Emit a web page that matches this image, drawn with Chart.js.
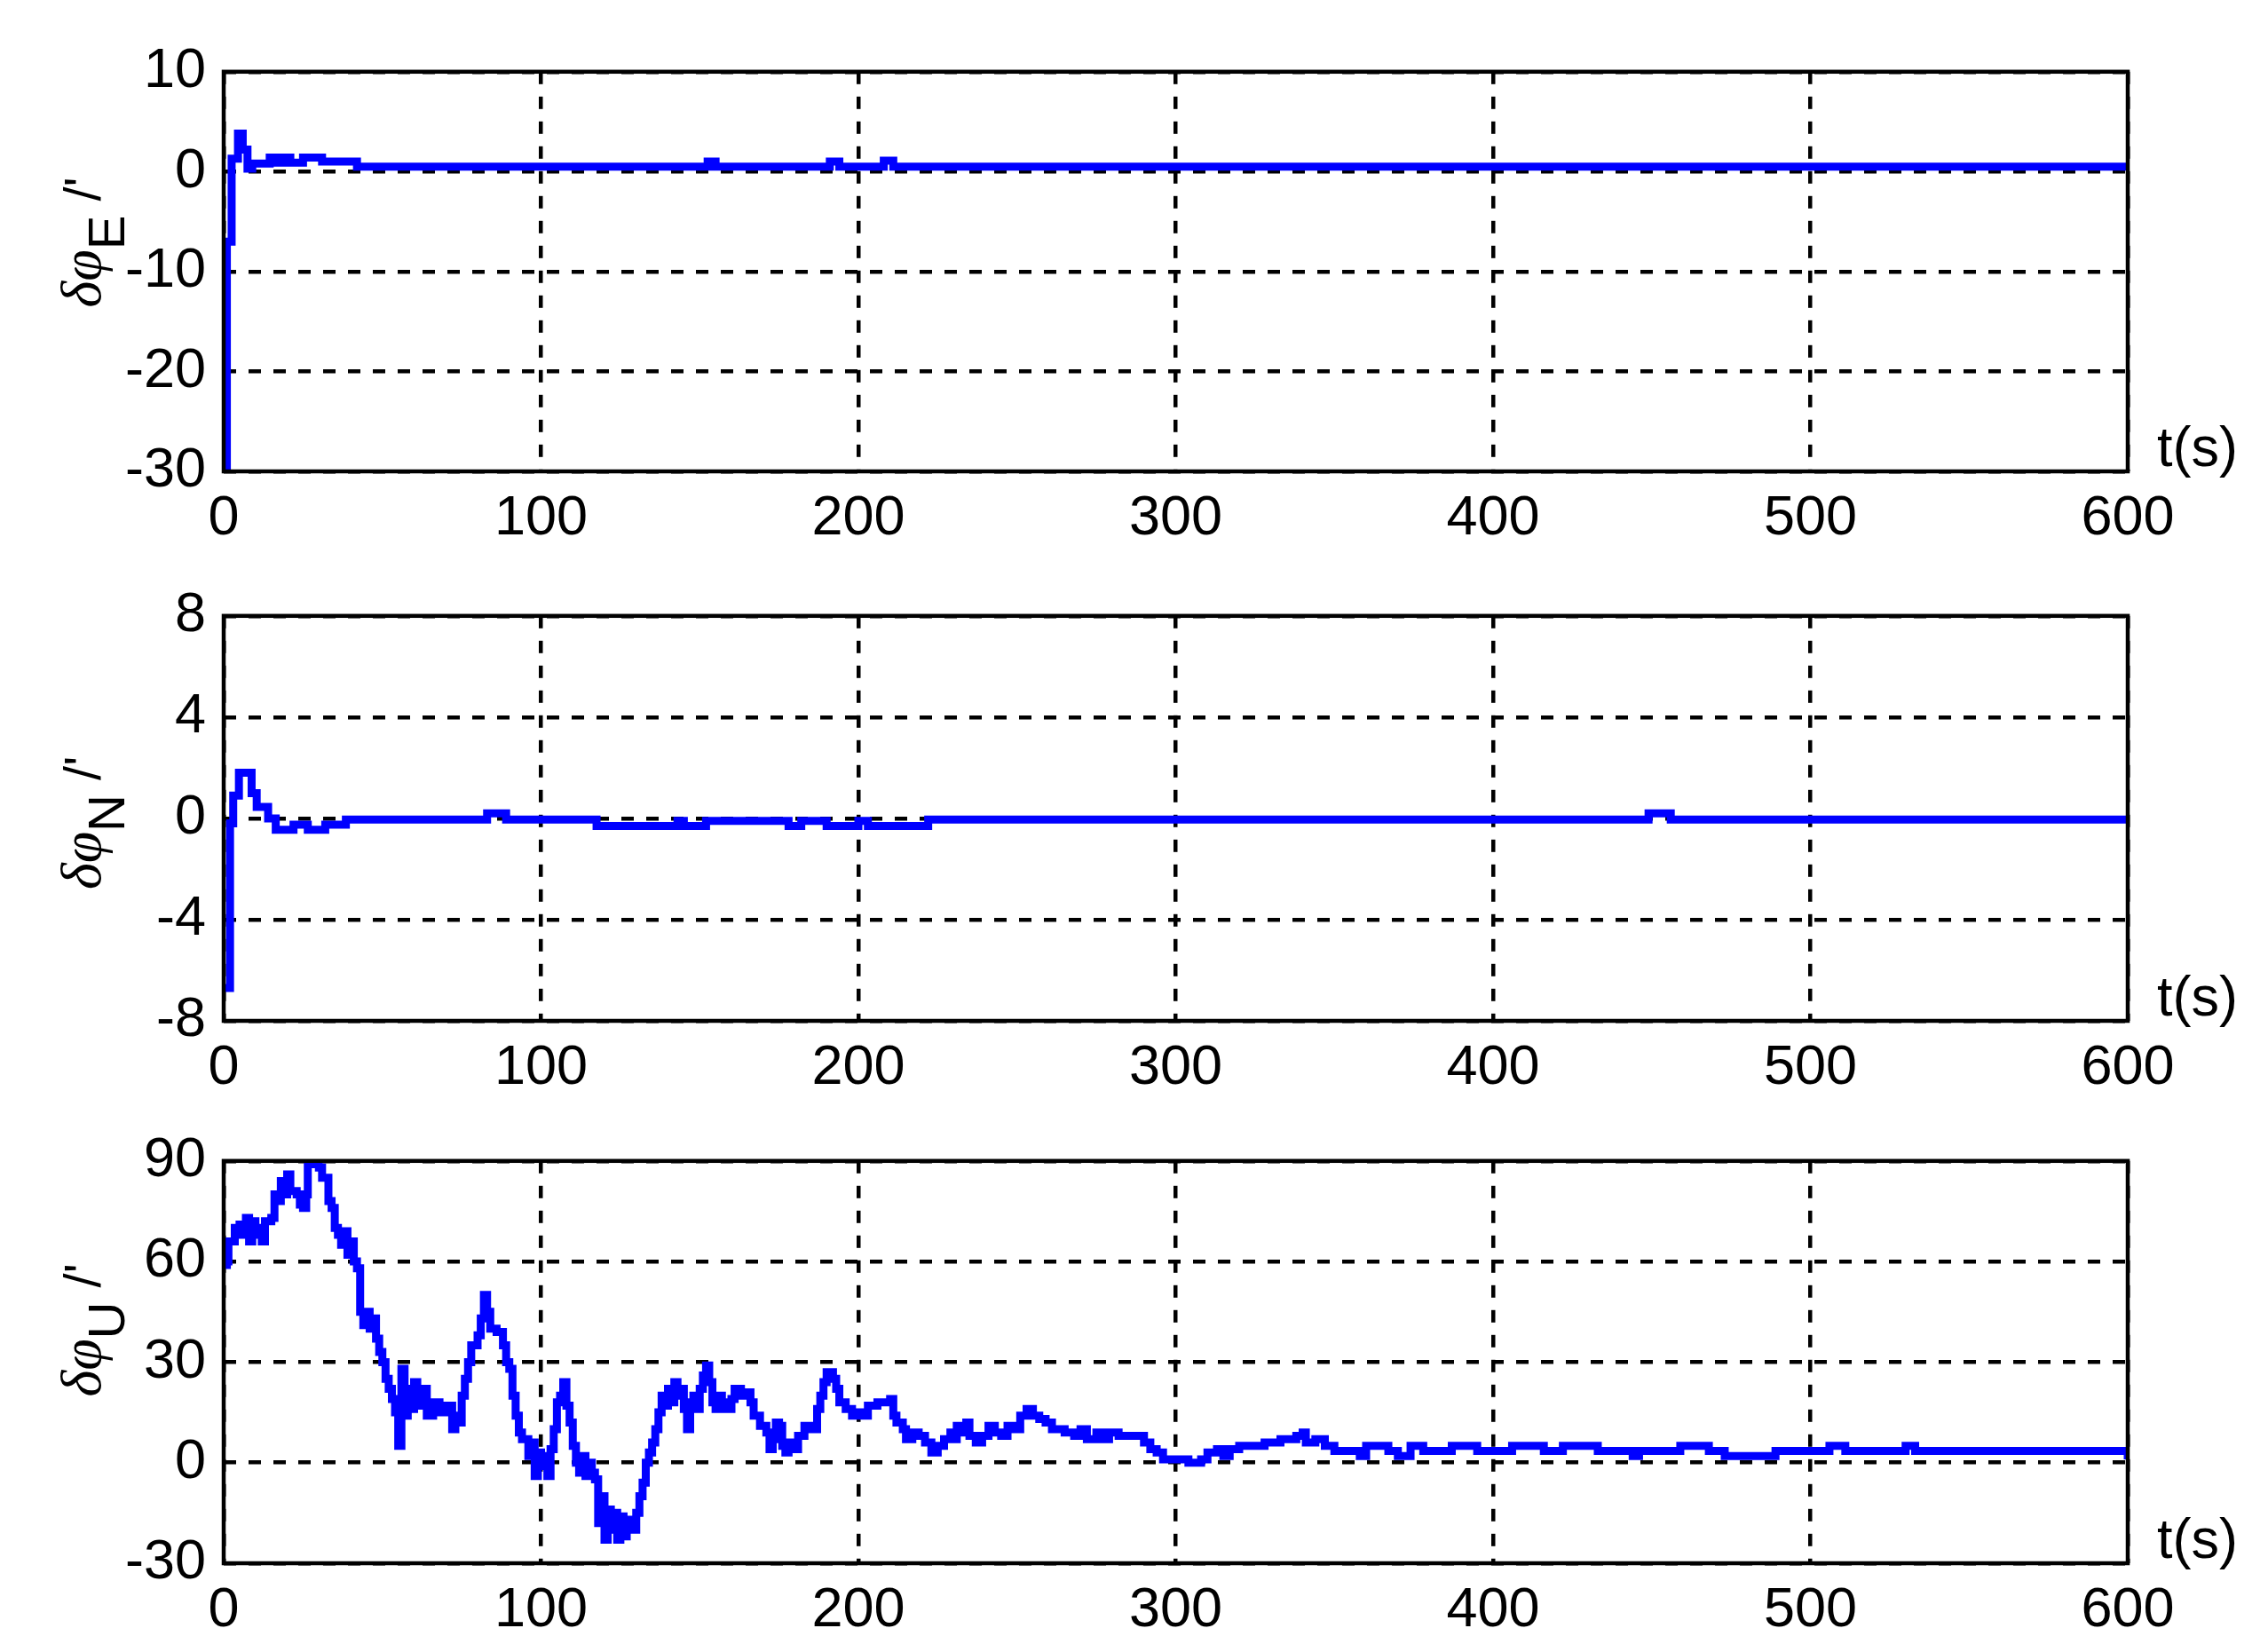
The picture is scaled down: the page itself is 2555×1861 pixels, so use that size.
<!DOCTYPE html>
<html>
<head>
<meta charset="utf-8">
<script src="https://cdn.jsdelivr.net/npm/chart.js@4.4.0/dist/chart.umd.min.js"></script>
<style>
html, body { margin: 0; padding: 0; background: #fff; overflow: hidden; }
canvas { position: absolute; left: 0; }
</style>
</head>
<body>
<canvas id="g1"></canvas>
<canvas id="g2"></canvas>
<canvas id="g3"></canvas>
<script>
// values: t in s, attitude error in arc-min
var tE = [0, 1, 2.5, 4.5, 6, 7.5, 9, 14.5, 17, 19, 21, 25, 31, 42, 152.5, 155, 191, 194, 208, 211, 600];
var phiE = [-31, -7, 1.3, 3.8, 2.2, 0.3, 0.8, 1.4, 0.9, 1.4, 0.9, 1.4, 1.0, 0.5, 1.0, 0.5, 1.0, 0.5, 1.1, 0.5, 0.5];

var tN = [0, 2, 3, 4.8, 8.8, 10.4, 14, 16.4, 22, 26.5, 32, 38.5, 83, 89, 117.5, 143, 145, 152, 178, 182, 190, 200, 203, 222, 449, 456, 600];
var phiN = [-6.7, -0.2, 0.9, 1.8, 1.0, 0.45, 0, -0.45, -0.25, -0.45, -0.25, -0.05, 0.2, -0.05, -0.3, -0.1, -0.3, -0.1, -0.3, -0.1, -0.3, -0.1, -0.3, -0.05, 0.2, -0.05, -0.05];

var tU = [0, 1, 1.5, 3, 3.5, 5, 6, 7, 8, 9, 10, 11, 12, 13, 15, 16, 17, 18, 19, 20, 21, 23, 24, 25, 26, 26.5, 28, 30, 31, 32,
  33, 34, 35, 36, 37, 38, 39, 40, 41, 42, 43, 44, 45, 46, 47, 48, 49, 50, 51, 52, 53, 54, 55, 56, 57, 58, 59, 60, 61, 62,
  64, 66, 68, 70, 72, 73, 74, 75, 76, 77, 78, 80, 81, 82, 83, 84, 86, 88, 89, 90, 91, 92, 93, 94, 96, 97, 98, 99, 100, 101,
  102, 103, 104, 105, 106, 107, 108, 109, 110, 111, 112, 113, 114, 115, 116, 117, 118, 119, 120, 121, 122, 123, 124, 125, 126, 127, 128, 130, 131, 132,
  133, 134, 135, 136, 137, 138, 139, 140, 141, 142, 143, 144, 145, 146, 147, 148, 149, 150, 151, 152, 153, 154, 155, 156, 157, 158, 160, 161, 163, 165,
  166, 167, 169, 171, 172, 173, 174, 175, 176, 177, 178, 179, 181, 183, 185, 187, 188, 189, 190, 192, 193, 194, 196, 198, 200, 202, 203, 206, 208, 210,
  211, 212, 214, 215, 217, 219, 221, 223, 225, 227, 229, 230, 231, 233, 234, 235, 237, 239, 241, 243, 245, 247, 249, 251, 253, 255, 257, 259, 261, 265,
  268, 270, 272, 275, 277, 279, 282, 287, 290, 292, 294, 296, 300, 304, 308, 310, 313, 315, 317, 320, 323, 328, 333, 338, 340, 341, 344, 347, 350, 358,
  360, 367, 370, 374, 378, 387, 395, 406, 416, 422, 433, 444, 446, 459, 468, 473, 489, 506, 511, 530, 533, 599, 600];
var phiU = [59, 60, 66, 66, 70, 71, 68, 73, 66, 72, 68, 70, 66, 72, 73, 80, 78, 84, 80, 86, 81, 80, 77, 76, 80, 90, 89, 88, 85, 85,
  78, 76, 70, 68, 65, 69, 62, 66, 60, 58, 45, 41, 45, 40, 43, 37, 33, 30, 25, 22, 19, 15, 5, 28, 14, 22, 16, 24, 17, 22,
  14, 18, 15, 17, 10, 14, 12, 20, 25, 30, 35, 38, 43, 50, 45, 40, 39, 35, 30, 28, 20, 14, 9, 7, 2, 6, -4, 3, -1, 2,
  -4, 4, 10, 18, 20, 24, 17, 12, 5, 0, -3, 2, -4, 0, -3, -5, -18, -10, -23, -14, -20, -15, -23, -16, -22, -17, -20, -15, -10, -6,
  0, 3, 6, 10, 15, 20, 17, 22, 18, 24, 20, 22, 16, 10, 18, 20, 16, 22, 26, 29, 24, 18, 16, 20, 18, 16, 19, 22, 20, 21,
  18, 14, 11, 9, 4, 7, 12, 11, 5, 3, 6, 4, 8, 11, 10, 16, 20, 24, 27, 25, 22, 18, 16, 14, 15, 14, 17, 18, 18, 19,
  14, 12, 10, 7, 9, 8, 6, 3, 5, 7, 9, 7, 11, 9, 12, 8, 6, 8, 11, 9, 8, 11, 10, 14, 16, 14, 13, 12, 10, 9,
  8, 10, 7, 9, 7, 9, 8, 8, 6, 4, 3, 1, 1, 0, 1, 3, 4, 2, 4, 5, 5, 6, 7, 8, 9, 6, 7, 5, 3.5, 2,
  5, 3.5, 2, 5, 3.5, 5, 3.5, 5, 3.5, 5, 3.5, 2, 3.5, 5, 3.5, 2, 3.5, 5, 3.5, 5, 3.5, 3.5, 1];

var LEFT = 252, RIGHT = 2397, W = 2555, TOPPAD = 50, XAXIS_H = 110;
var tickFont = { family: '"Liberation Sans", Arial, sans-serif', size: 63 };

var panelText = {
  id: 'panelText',
  afterDraw: function(chart, args, opts) {
    var ctx = chart.ctx, a = chart.chartArea;
    ctx.save();
    ctx.setLineDash([]);
    ctx.strokeStyle = '#000';
    ctx.lineWidth = 4.5;
    ctx.strokeRect(a.left, a.top, a.right - a.left, a.bottom - a.top);

    ctx.fillStyle = '#000';
    ctx.font = '63px "Liberation Sans", Arial, sans-serif';
    ctx.textAlign = 'left';
    ctx.textBaseline = 'alphabetic';
    ctx.fillText('t(s)', a.right + 33, a.bottom - 6);

    // rotated y label with subscript
    var parts = [
      { s: 'δφ', f: 'italic 64px "Liberation Serif", serif', dy: 0 },
      { s: opts.sub, f: '58px "Liberation Sans", Arial, sans-serif', dy: 27 },
      { s: ' /', f: '58px "Liberation Sans", Arial, sans-serif', dy: 0 },
      { s: "'", f: '58px "Liberation Sans", Arial, sans-serif', dy: 0 }
    ];
    var total = 0;
    parts.forEach(function(p) { ctx.font = p.f; p.w = ctx.measureText(p.s).width; total += p.w; });
    ctx.translate(113, (a.top + a.bottom) / 2 + opts.dy);
    ctx.rotate(-Math.PI / 2);
    var x = -total / 2;
    parts.forEach(function(p) {
      ctx.font = p.f;
      ctx.fillText(p.s, x, p.dy);
      x += p.w;
    });
    ctx.restore();
  }
};

var panels = [
  { id: 'g1', top: 73, bottom: 531, t: tE, v: phiE, min: -30, max: 10, step: 10, sub: 'E', labelDy: -33 },
  { id: 'g2', top: 686, bottom: 1150, t: tN, v: phiN, min: -8, max: 8, step: 4, sub: 'N', labelDy: 5 },
  { id: 'g3', top: 1300, bottom: 1761, t: tU, v: phiU, min: -30, max: 90, step: 30, sub: 'U', labelDy: -36 }
];

panels.forEach(function(p) {
  var cv = document.getElementById(p.id);
  cv.width = W;
  cv.height = (p.bottom - p.top) + TOPPAD + XAXIS_H;
  cv.style.top = (p.top - TOPPAD) + 'px';

  new Chart(cv, {
    type: 'line',
    data: {
      datasets: [{
        data: p.t.map(function(t, i) { return { x: t, y: p.v[i] }; }),
        borderColor: '#0000ff',
        borderWidth: 9,
        pointRadius: 0,
        stepped: true,
        fill: false
      }]
    },
    options: {
      responsive: false,
      animation: false,
      devicePixelRatio: 1,
      layout: { padding: { top: TOPPAD, right: W - RIGHT, left: 0, bottom: 0 } },
      plugins: {
        legend: { display: false },
        tooltip: { enabled: false },
        panelText: { sub: p.sub, dy: p.labelDy }
      },
      scales: {
        x: {
          type: 'linear', min: 0, max: 600,
          ticks: { stepSize: 100, padding: 16, color: '#000', font: tickFont, maxRotation: 0 },
          grid: { color: '#000', lineWidth: 4.5, drawTicks: false },
          border: { display: false, dash: [14, 14] },
          afterFit: function(s) { s.height = XAXIS_H; }
        },
        y: {
          min: p.min, max: p.max,
          ticks: { stepSize: p.step, padding: 20, color: '#000', font: tickFont },
          grid: { color: '#000', lineWidth: 4.5, drawTicks: false },
          border: { display: false, dash: [14, 14] },
          afterFit: function(s) { s.width = LEFT; }
        }
      }
    },
    plugins: [panelText]
  });
});
</script>
</body>
</html>
